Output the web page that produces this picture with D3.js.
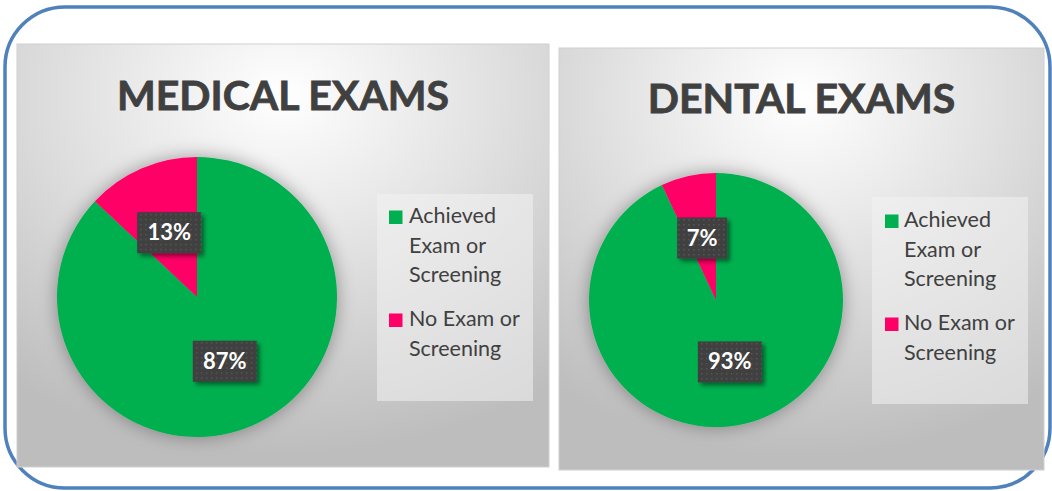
<!DOCTYPE html>
<html>
<head>
<meta charset="utf-8">
<script src="https://cdn.jsdelivr.net/npm/d3@7"></script>
<style>
  html, body { margin: 0; padding: 0; background: #ffffff; }
  svg { display: block; font-family: Lato, "Open Sans", sans-serif; }
</style>
</head>
<body>
<div id="chart"></div>
<script>
// Data
const categories = ["Achieved Exam or Screening", "No Exam or Screening"];
const legendLines = [["Achieved", "Exam or", "Screening"], ["No Exam or", "Screening"]];
const chartTitles = ["MEDICAL EXAMS", "DENTAL EXAMS"];
const medicalValues = [87, 13];
const dentalValues = [93, 7];

const colors = { achieved: "#00b050", none: "#ff0066" };

const width = 1052;
const height = 491;

const svg = d3
  .select("#chart")
  .append("svg")
  .attr("width", width)
  .attr("height", height);

const defs = svg.append("defs");

// Panel background gradient
const grad = defs
  .append("radialGradient")
  .attr("id", "panelGrad")
  .attr("cx", "50%")
  .attr("cy", "12%")
  .attr("r", "85%");
grad.append("stop").attr("offset", "0%").attr("stop-color", "#ffffff");
grad.append("stop").attr("offset", "45%").attr("stop-color", "#e2e2e2");
grad.append("stop").attr("offset", "100%").attr("stop-color", "#bdbdbd");

// Soft shadow round the pie
const pieShadow = defs
  .append("filter")
  .attr("id", "pieShadow")
  .attr("x", "-30%")
  .attr("y", "-30%")
  .attr("width", "160%")
  .attr("height", "160%");
pieShadow
  .append("feDropShadow")
  .attr("dx", 0)
  .attr("dy", 0)
  .attr("stdDeviation", 9)
  .attr("flood-color", "#000")
  .attr("flood-opacity", 0.35);

// Shadow under the data label boxes
const labelShadow = defs
  .append("filter")
  .attr("id", "labelShadow")
  .attr("x", "-30%")
  .attr("y", "-30%")
  .attr("width", "160%")
  .attr("height", "160%");
labelShadow
  .append("feDropShadow")
  .attr("dx", 3)
  .attr("dy", 3)
  .attr("stdDeviation", 2)
  .attr("flood-color", "#000")
  .attr("flood-opacity", 0.45);

// Dotted fill for the label boxes
const dots = defs
  .append("pattern")
  .attr("id", "dots")
  .attr("width", 5)
  .attr("height", 5)
  .attr("patternUnits", "userSpaceOnUse");
dots.append("rect").attr("width", 5).attr("height", 5).attr("fill", "#3f3f3f");
dots
  .append("rect")
  .attr("x", 1)
  .attr("y", 1)
  .attr("width", 1.5)
  .attr("height", 1.5)
  .attr("fill", "#585858");

// Outer blue rounded frame
svg
  .append("rect")
  .attr("x", 5)
  .attr("y", 7)
  .attr("width", 1045)
  .attr("height", 481)
  .attr("rx", 60)
  .attr("ry", 60)
  .attr("fill", "none")
  .attr("stroke", "#4f81bd")
  .attr("stroke-width", 3.5);

const panels = [
  {
    title: chartTitles[0],
    values: medicalValues,
    box: { x: 17, y: 44, w: 532, h: 423 },
    titleY: 110,
    pie: { cx: 197, cy: 297, r: 140 },
    legend: { x: 377, y: 194, w: 156, h: 207, tx: 409, sx: 389, base: [223, 326], lh: 29.5 },
  },
  {
    title: chartTitles[1],
    values: dentalValues,
    box: { x: 559, y: 48, w: 485, h: 422 },
    titleY: 113,
    pie: { cx: 716, cy: 300, r: 127 },
    legend: { x: 872, y: 197, w: 156, h: 207, tx: 904, sx: 885, base: [227, 330], lh: 29.5 },
  },
];

panels.forEach((p) => drawPanel(p));

function drawPanel(p) {
  const g = svg.append("g");

  g.append("rect")
    .attr("x", p.box.x)
    .attr("y", p.box.y)
    .attr("width", p.box.w)
    .attr("height", p.box.h)
    .attr("fill", "url(#panelGrad)")
    .attr("stroke", "#d0d0d0")
    .attr("stroke-width", 1);

  // Title
  g.append("text")
    .attr("x", p.box.x + p.box.w / 2)
    .attr("y", p.titleY)
    .attr("text-anchor", "middle")
    .attr("fill", "#404040")
    .attr("stroke", "#404040")
    .attr("stroke-width", 0.8)
    .style("font-size", "41px")
    .style("font-weight", "bold")
    .text(p.title);

  // Pie
  const data = categories.map((c, i) => ({ category: c, value: p.values[i] }));
  const color = d3
    .scaleOrdinal()
    .domain(categories)
    .range([colors.achieved, colors.none]);

  const pie = d3
    .pie()
    .value((d) => d.value)
    .sort(null);
  const arc = d3.arc().innerRadius(0).outerRadius(p.pie.r);
  const arcs = pie(data);

  const pieG = g
    .append("g")
    .attr("transform", `translate(${p.pie.cx},${p.pie.cy})`);

  pieG
    .append("g")
    .attr("filter", "url(#pieShadow)")
    .selectAll("path")
    .data(arcs)
    .join("path")
    .attr("d", arc)
    .attr("fill", (d) => color(d.data.category));

  // Data labels
  const labels = pieG
    .selectAll("g.label")
    .data(arcs)
    .join("g")
    .attr("class", "label")
    .attr("transform", (d) => `translate(${arc.centroid(d)})`);

  labels.each(function (d) {
    const lg = d3.select(this);
    const txt = `${d.data.value}%`;
    const bw = txt.length === 2 ? 50 : 64;
    lg.append("rect")
      .attr("x", -bw / 2)
      .attr("y", -20.5)
      .attr("width", bw)
      .attr("height", 41)
      .attr("fill", "url(#dots)")
      .attr("filter", "url(#labelShadow)");
    lg.append("text")
      .attr("text-anchor", "middle")
      .attr("y", 7.5)
      .attr("fill", "#ffffff")
      .style("font-size", "22px")
      .style("font-weight", "bold")
      .text(txt);
  });

  // Legend
  const L = p.legend;
  g.append("rect")
    .attr("x", L.x)
    .attr("y", L.y)
    .attr("width", L.w)
    .attr("height", L.h)
    .attr("fill", "#f2f2f2")
    .attr("fill-opacity", 0.55);

  categories.forEach((c, i) => {
    g.append("rect")
      .attr("x", L.sx)
      .attr("y", L.base[i] - 12.5)
      .attr("width", 13.5)
      .attr("height", 13.5)
      .attr("fill", color(c));

    const t = g
      .append("text")
      .attr("x", L.tx)
      .attr("y", L.base[i])
      .attr("fill", "#404040")
      .style("font-size", "21.5px");
    legendLines[i].forEach((line, j) => {
      t.append("tspan")
        .attr("x", L.tx)
        .attr("dy", j === 0 ? 0 : L.lh)
        .text(line);
    });
  });
}
</script>
</body>
</html>
